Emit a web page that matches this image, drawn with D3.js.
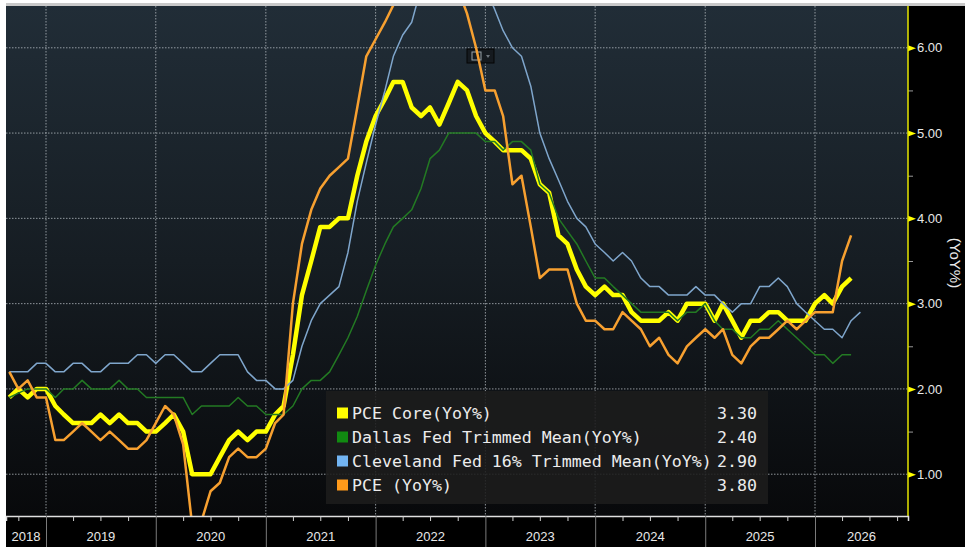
<!DOCTYPE html>
<html>
<head>
<meta charset="utf-8">
<script src="https://cdn.jsdelivr.net/npm/d3@7/dist/d3.min.js"></script>
<style>
  body { margin: 0; background: #fff; }
  svg { display: block; }
</style>
</head>
<body>
<div id="chart"></div>
<script>
// monthly YoY readings, first point plotted at Sep 2018
var firstMonth = new Date(2018, 8, 1);

var pceCore = [1.9, 2.0, 1.9, 2.0, 2.0, 1.8, 1.7, 1.6, 1.6, 1.6, 1.7, 1.6, 1.7, 1.6, 1.6, 1.5, 1.5, 1.6, 1.7, 1.5,
  1.0, 1.0, 1.0, 1.2, 1.4, 1.5, 1.4, 1.5, 1.5, 1.7, 1.8, 2.4, 3.1, 3.5, 3.9, 3.9, 4.0, 4.0, 4.5, 4.9,
  5.2, 5.4, 5.6, 5.6, 5.3, 5.2, 5.3, 5.1, 5.35, 5.6, 5.5, 5.2, 5.0, 4.9, 4.8, 4.8, 4.8, 4.7, 4.4, 4.3,
  3.8, 3.7, 3.4, 3.2, 3.1, 3.2, 3.1, 3.1, 2.9, 2.8, 2.8, 2.8, 2.9, 2.8, 3.0, 3.0, 3.0, 2.8, 3.0, 2.8,
  2.6, 2.8, 2.8, 2.9, 2.9, 2.8, 2.8, 2.8, 3.0, 3.1, 3.0, 3.2, 3.3];

var dallasTrimmed = [1.9, 1.95, 2.0, 2.0, 2.0, 1.9, 2.0, 2.0, 2.1, 2.0, 2.0, 2.0, 2.1, 2.0, 2.0, 1.9, 1.9, 1.9, 1.9, 1.9,
  1.7, 1.8, 1.8, 1.8, 1.8, 1.9, 1.8, 1.8, 1.7, 1.7, 1.7, 1.8, 2.0, 2.1, 2.1, 2.2, 2.4, 2.6, 2.85, 3.15,
  3.45, 3.7, 3.9, 4.0, 4.1, 4.35, 4.7, 4.8, 5.0, 5.0, 5.0, 5.0, 4.9, 4.9, 4.8, 4.9, 4.9, 4.8, 4.4, 4.3,
  4.0, 3.85, 3.7, 3.5, 3.3, 3.3, 3.2, 3.1, 3.0, 2.9, 2.9, 2.9, 2.9, 2.8, 2.9, 2.9, 3.0, 2.8, 2.7, 2.7,
  2.6, 2.6, 2.7, 2.7, 2.8, 2.7, 2.6, 2.5, 2.4, 2.4, 2.3, 2.4, 2.4];

var clevelandTrimmed = [2.2, 2.2, 2.2, 2.3, 2.3, 2.2, 2.2, 2.3, 2.3, 2.2, 2.2, 2.3, 2.3, 2.3, 2.4, 2.4, 2.3, 2.4, 2.4, 2.3,
  2.2, 2.2, 2.3, 2.4, 2.4, 2.4, 2.2, 2.1, 2.1, 2.0, 2.0, 2.1, 2.5, 2.8, 3.0, 3.1, 3.2, 3.6, 4.2, 4.65,
  5.1, 5.5, 5.9, 6.15, 6.3, 6.7, 6.9, 7.0, 7.1, 7.0, 7.0, 6.9, 6.7, 6.45, 6.2, 6.0, 5.9, 5.55, 5.0, 4.7,
  4.45, 4.2, 4.0, 3.9, 3.7, 3.6, 3.5, 3.6, 3.5, 3.3, 3.2, 3.2, 3.1, 3.1, 3.1, 3.2, 3.1, 3.1, 3.0, 2.9,
  3.0, 3.0, 3.2, 3.2, 3.3, 3.2, 3.0, 2.9, 2.8, 2.7, 2.7, 2.6, 2.8, 2.9];

var pceHeadline = [2.2, 2.0, 2.1, 1.9, 1.9, 1.4, 1.4, 1.5, 1.6, 1.5, 1.4, 1.5, 1.4, 1.3, 1.3, 1.4, 1.6, 1.8, 1.7, 1.35,
  0.4, 0.45, 0.8, 0.9, 1.2, 1.3, 1.2, 1.2, 1.3, 1.6, 1.7, 3.0, 3.7, 4.1, 4.35, 4.5, 4.6, 4.7, 5.3, 5.9,
  6.1, 6.3, 6.5, 6.7, 6.9, 7.0, 7.2, 7.0, 6.8, 6.7, 6.4, 6.0, 5.5, 5.5, 5.2, 4.4, 4.5, 3.9, 3.3, 3.4,
  3.4, 3.4, 3.0, 2.8, 2.8, 2.7, 2.7, 2.9, 2.8, 2.7, 2.5, 2.6, 2.4, 2.3, 2.5, 2.6, 2.7, 2.6, 2.7, 2.4,
  2.3, 2.5, 2.6, 2.6, 2.7, 2.8, 2.7, 2.8, 2.9, 2.9, 2.9, 3.5, 3.8];

var seriesNames = ["PCE Core(YoY%)", "Dallas Fed Trimmed Mean(YoY%)", "Cleveland Fed 16% Trimmed Mean(YoY%)", "PCE (YoY%)"];
var lastValues = ["3.30", "2.40", "2.90", "3.80"];
var yTicks = [1, 2, 3, 4, 5, 6];
var yMinorTicks = [1.5, 2.5, 3.5, 4.5, 5.5];
var years = [2018, 2019, 2020, 2021, 2022, 2023, 2024, 2025, 2026];

var width = 969, height = 547;
var plot = {left: 6, top: 6, right: 908, bottom: 516};

var months = d3.timeMonth.range(firstMonth, d3.timeMonth.offset(firstMonth, 94));

var x = d3.scaleTime()
    .domain([new Date(2019, 0, 1), new Date(2026, 0, 1)])
    .range([46, 815]);
x.domain([x.invert(plot.left), x.invert(plot.right)]).range([plot.left, plot.right]);

var y = d3.scaleLinear()
    .domain([0.51, 6.49])
    .range([plot.bottom, plot.top]);

var svg = d3.select("#chart").append("svg")
    .attr("width", width)
    .attr("height", height);

var defs = svg.append("defs");
var grad = defs.append("linearGradient")
    .attr("id", "bg").attr("x1", 0).attr("y1", 0).attr("x2", 0).attr("y2", 1);
grad.append("stop").attr("offset", "0%").attr("stop-color", "#212d37");
grad.append("stop").attr("offset", "50%").attr("stop-color", "#161d23");
grad.append("stop").attr("offset", "100%").attr("stop-color", "#08090b");

defs.append("clipPath").attr("id", "clip")
  .append("rect")
    .attr("x", plot.left).attr("y", plot.top)
    .attr("width", plot.right - plot.left).attr("height", plot.bottom - plot.top);

// frame
svg.append("rect").attr("x", 6).attr("y", 3).attr("width", 959).attr("height", 3).attr("fill", "#c9c9c9");
svg.append("rect").attr("x", 6).attr("y", 6).attr("width", 959).attr("height", height - 6).attr("fill", "#000");
svg.append("rect")
    .attr("x", plot.left).attr("y", plot.top)
    .attr("width", plot.right - plot.left).attr("height", plot.bottom - plot.top)
    .attr("fill", "url(#bg)");

// grid
var yearStarts = years.slice(1).map(function(yr) { return new Date(yr, 0, 1); });

svg.append("g").selectAll("line")
    .data(yTicks)
  .enter().append("line")
    .attr("x1", plot.left).attr("x2", plot.right)
    .attr("y1", function(d) { return y(d); })
    .attr("y2", function(d) { return y(d); })
    .attr("stroke", "#b9c0c6").attr("stroke-opacity", 0.75)
    .attr("stroke-dasharray", "1.5,1.5");

svg.append("g").selectAll("line")
    .data(yearStarts)
  .enter().append("line")
    .attr("x1", function(d) { return x(d); })
    .attr("x2", function(d) { return x(d); })
    .attr("y1", plot.top).attr("y2", plot.bottom)
    .attr("stroke", "#b9c0c6").attr("stroke-opacity", 0.75)
    .attr("stroke-dasharray", "1.5,1.5");

// little toolbar icon
var icon = svg.append("g").attr("transform", "translate(467,49)");
icon.append("rect").attr("width", 27).attr("height", 14).attr("fill", "#151a1f").attr("stroke", "#050505");
icon.append("rect").attr("x", 5).attr("y", 3).attr("width", 9).attr("height", 8).attr("fill", "none").attr("stroke", "#9aa3aa");
icon.append("path").attr("d", "M19,6L23,6L21,9Z").attr("fill", "#6d757c");

// lines
var line = d3.line()
    .x(function(d, i) { return x(months[i]); })
    .y(function(d) { return y(d); });

var lines = svg.append("g").attr("clip-path", "url(#clip)");

function addLine(dataset, color, w) {
  lines.append("path")
      .datum(dataset)
      .attr("fill", "none")
      .attr("stroke", color)
      .attr("stroke-width", w)
      .attr("stroke-linejoin", "round")
      .attr("d", line);
}

addLine(pceCore, "#ffff00", 4.5);
addLine(dallasTrimmed, "#237a23", 1.5);
addLine(clevelandTrimmed, "#7fa6cc", 1.5);
addLine(pceHeadline, "#f7a030", 2.5);

// legend
var legendColors = ["#ffff00", "#118a11", "#72b4f2", "#ff9a1a"];
var legend = svg.append("g");
legend.append("rect")
    .attr("x", 326).attr("y", 391).attr("width", 442).attr("height", 113)
    .attr("fill", "#1c1c1c").attr("fill-opacity", 0.88);

var rows = legend.selectAll(".row")
    .data(seriesNames)
  .enter().append("g")
    .attr("class", "row")
    .attr("transform", function(d, i) { return "translate(0," + (413 + i * 24) + ")"; });

rows.append("rect")
    .attr("x", 337).attr("y", -5.5).attr("width", 11).attr("height", 11)
    .attr("fill", function(d, i) { return legendColors[i]; });

rows.append("text")
    .attr("x", 352).attr("y", 6)
    .attr("fill", "#ececec")
    .style("font", "16.6px 'DejaVu Sans Mono'")
    .text(function(d) { return d; });

rows.append("text")
    .attr("x", 757).attr("y", 6)
    .attr("text-anchor", "end")
    .attr("fill", "#ececec")
    .style("font", "16.6px 'DejaVu Sans Mono'")
    .text(function(d, i) { return lastValues[i]; });

// right axis
var yAxis = svg.append("g")
    .attr("transform", "translate(" + plot.right + ",0)")
    .call(d3.axisRight(y).tickValues(yTicks).tickFormat(d3.format(".2f")).tickSize(0).tickPadding(9));
yAxis.select(".domain").remove();
yAxis.selectAll(".tick").append("path").attr("d", "M0,-3L8,0L0,3Z").attr("fill", "#ffff00");
yAxis.selectAll("text")
    .attr("fill", "#e8e8e8")
    .style("font", "13px 'Liberation Sans'");

var yMinor = svg.append("g")
    .attr("transform", "translate(" + plot.right + ",0)")
    .call(d3.axisRight(y).tickValues(yMinorTicks).tickFormat("").tickSize(5));
yMinor.select(".domain").remove();
yMinor.selectAll("line").attr("stroke", "#9a9a9a");

svg.append("line")
    .attr("x1", plot.right).attr("x2", plot.right)
    .attr("y1", plot.top).attr("y2", plot.bottom)
    .attr("stroke", "#e6e600").attr("stroke-width", 1.5);

svg.append("text")
    .attr("transform", "translate(950,263) rotate(90)")
    .attr("text-anchor", "middle")
    .attr("fill", "#e8e8e8")
    .style("font", "15px 'Liberation Sans'")
    .text("(YoY%)");

// bottom axis
var quarters = d3.timeMonth.every(3).range(new Date(2018, 9, 1), new Date(2026, 10, 1))
    .filter(function(d) { return d.getMonth() !== 0; });

var xQuarter = svg.append("g")
    .attr("transform", "translate(0," + plot.bottom + ")")
    .call(d3.axisBottom(x).tickValues(quarters).tickFormat("").tickSize(5));
xQuarter.select(".domain").attr("stroke", "#e0e0e0").attr("stroke-width", 1.5);
xQuarter.selectAll(".tick line").attr("stroke", "#d0d0d0");

var xYear = svg.append("g")
    .attr("transform", "translate(0," + plot.bottom + ")")
    .call(d3.axisBottom(x).tickValues(yearStarts).tickFormat("").tickSize(31).tickSizeOuter(0));
xYear.select(".domain").remove();
xYear.selectAll(".tick line").attr("stroke", "#7a7a7a");

svg.append("g").selectAll("text")
    .data(years)
  .enter().append("text")
    .attr("x", function(d) {
      var a = Math.max(x(new Date(d, 0, 1)), plot.left);
      var b = Math.min(x(new Date(d + 1, 0, 1)), plot.right);
      return (a + b) / 2;
    })
    .attr("y", 541)
    .attr("text-anchor", "middle")
    .attr("fill", "#e8e8e8")
    .style("font", "13px 'Liberation Sans'")
    .text(function(d) { return d; });
</script>
</body>
</html>
